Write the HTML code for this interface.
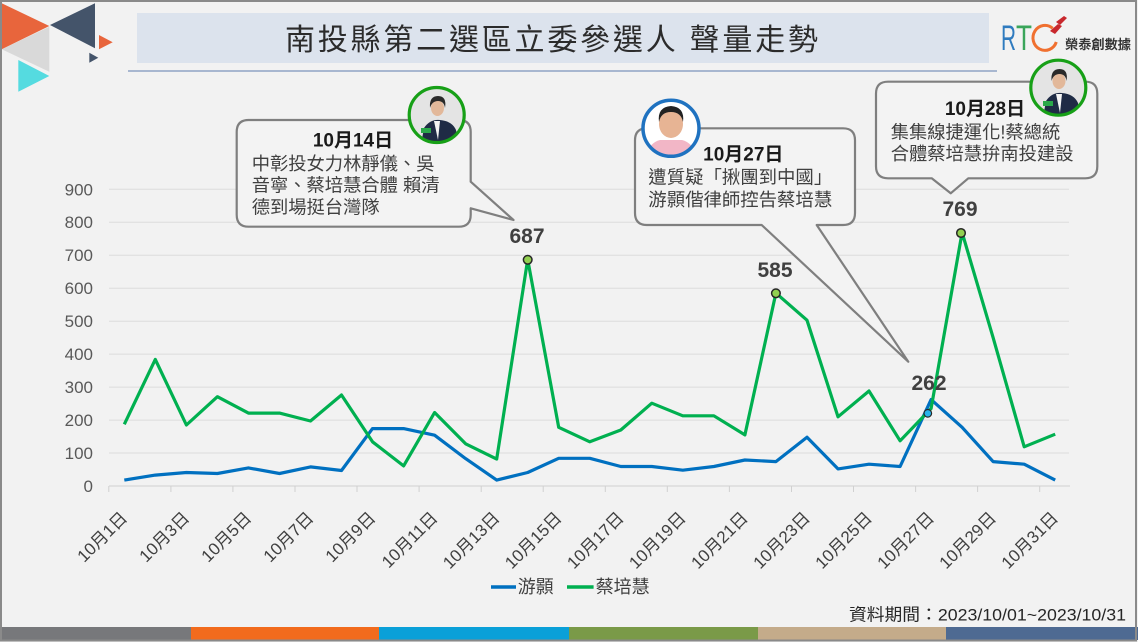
<!DOCTYPE html>
<html><head><meta charset="utf-8"><style>
html,body{margin:0;padding:0;background:#f2f2f2;}
svg{display:block;}
text{font-family:"Liberation Sans","Noto Sans CJK TC",sans-serif;}
</style></head><body>
<svg width="1138" height="642" viewBox="0 0 1138 642" xmlns="http://www.w3.org/2000/svg">
<defs>
<clipPath id="c1"><circle cx="436.7" cy="115" r="27"/></clipPath>
<clipPath id="c2"><circle cx="671" cy="128.3" r="27"/></clipPath>
<clipPath id="c3"><circle cx="1058.3" cy="87.7" r="27"/></clipPath>
</defs>
<rect x="0" y="0" width="1138" height="642" fill="#f2f2f2"/>

<!-- logo triangles -->
<polygon points="1.7,49.3 49.3,26.7 49.3,71.7" fill="#d9d9d9"/>
<polygon points="1.7,3.3 1.7,49.3 49.3,26" fill="#e8653c"/>
<polygon points="18.3,60 18.3,91.7 49.3,76" fill="#55dbe0"/>
<polygon points="50,25 95,3.3 95,48.3" fill="#44546a"/>
<polygon points="99,35 99,49.3 112.7,42.3" fill="#e8653c"/>
<polygon points="89.3,52.7 89.3,62.7 98.3,57.7" fill="#44546a"/>

<!-- title -->
<rect x="137" y="13" width="852" height="50" fill="#dce3ed"/>
<line x1="128" y1="71" x2="997" y2="71" stroke="#8fa3c4" stroke-width="1.5"/>
<text x="285" y="50" font-size="30" fill="#2b2b2b" textLength="533" lengthAdjust="spacing">南投縣第二選區立委參選人 聲量走勢</text>

<!-- RTC logo -->
<text x="1001" y="50" font-size="35" fill="#2f7bbf" textLength="15" lengthAdjust="spacingAndGlyphs">R</text>
<text x="1016" y="50" font-size="35" fill="#3aa55a" textLength="16" lengthAdjust="spacingAndGlyphs">T</text>
<path d="M1052.7,28.3 A12,12.5 0 1 0 1056.3,42" fill="none" stroke="#f07030" stroke-width="3"/>
<path d="M1050,31 L1058,24 L1062,26 L1055,34 Z" fill="#c8282d"/>
<path d="M1056,22 L1064,16 L1067,18 L1060,25 Z" fill="#c8282d"/>
<text x="1065" y="49" font-size="13" font-weight="bold" fill="#333" textLength="66" lengthAdjust="spacingAndGlyphs">榮泰創數據</text>

<!-- gridlines -->
<g stroke="#dcdcdc" stroke-width="1">
<line x1="109" y1="453" x2="1069" y2="453"/>
<line x1="109" y1="420.1" x2="1069" y2="420.1"/>
<line x1="109" y1="387.1" x2="1069" y2="387.1"/>
<line x1="109" y1="354.1" x2="1069" y2="354.1"/>
<line x1="109" y1="321.2" x2="1069" y2="321.2"/>
<line x1="109" y1="288.2" x2="1069" y2="288.2"/>
<line x1="109" y1="255.2" x2="1069" y2="255.2"/>
<line x1="109" y1="222.2" x2="1069" y2="222.2"/>
<line x1="109" y1="189.3" x2="1069" y2="189.3"/>
</g>
<line x1="109" y1="486" x2="1070" y2="486" stroke="#d0d0d0" stroke-width="1"/>
<g stroke="#d0d0d0" stroke-width="1">
<line x1="108.8" y1="486" x2="108.8" y2="492"/>
<line x1="170.9" y1="486" x2="170.9" y2="492"/>
<line x1="232.9" y1="486" x2="232.9" y2="492"/>
<line x1="295" y1="486" x2="295" y2="492"/>
<line x1="357" y1="486" x2="357" y2="492"/>
<line x1="419.1" y1="486" x2="419.1" y2="492"/>
<line x1="481.2" y1="486" x2="481.2" y2="492"/>
<line x1="543.2" y1="486" x2="543.2" y2="492"/>
<line x1="605.3" y1="486" x2="605.3" y2="492"/>
<line x1="667.3" y1="486" x2="667.3" y2="492"/>
<line x1="729.4" y1="486" x2="729.4" y2="492"/>
<line x1="791.5" y1="486" x2="791.5" y2="492"/>
<line x1="853.5" y1="486" x2="853.5" y2="492"/>
<line x1="915.6" y1="486" x2="915.6" y2="492"/>
<line x1="977.6" y1="486" x2="977.6" y2="492"/>
<line x1="1039.7" y1="486" x2="1039.7" y2="492"/>
</g>

<!-- y labels -->
<g font-size="17" fill="#595959" text-anchor="end">
<text x="93" y="492">0</text>
<text x="93" y="459">100</text>
<text x="93" y="426.1">200</text>
<text x="93" y="393.1">300</text>
<text x="93" y="360.1">400</text>
<text x="93" y="327.2">500</text>
<text x="93" y="294.2">600</text>
<text x="93" y="261.2">700</text>
<text x="93" y="228.2">800</text>
<text x="93" y="195.3">900</text>
</g>

<!-- x labels -->
<g font-size="17" fill="#404040" text-anchor="end">
<text transform="translate(128.3,519) rotate(-45)">10月1日</text>
<text transform="translate(190.4,519) rotate(-45)">10月3日</text>
<text transform="translate(252.4,519) rotate(-45)">10月5日</text>
<text transform="translate(314.5,519) rotate(-45)">10月7日</text>
<text transform="translate(376.5,519) rotate(-45)">10月9日</text>
<text transform="translate(438.6,519) rotate(-45)">10月11日</text>
<text transform="translate(500.7,519) rotate(-45)">10月13日</text>
<text transform="translate(562.7,519) rotate(-45)">10月15日</text>
<text transform="translate(624.8,519) rotate(-45)">10月17日</text>
<text transform="translate(686.8,519) rotate(-45)">10月19日</text>
<text transform="translate(748.9,519) rotate(-45)">10月21日</text>
<text transform="translate(811,519) rotate(-45)">10月23日</text>
<text transform="translate(873,519) rotate(-45)">10月25日</text>
<text transform="translate(935.1,519) rotate(-45)">10月27日</text>
<text transform="translate(997.1,519) rotate(-45)">10月29日</text>
<text transform="translate(1059.2,519) rotate(-45)">10月31日</text>
</g>

<!-- series -->
<polyline fill="none" stroke="#0070c0" stroke-width="3.2" stroke-linejoin="round" points="124.3,480.1 155.3,475.1 186.4,472.5 217.4,473.5 248.4,467.9 279.5,473.5 310.5,466.9 341.5,470.5 372.5,428.6 403.6,428.6 434.6,435.2 465.6,458.6 496.7,480.1 527.7,472.5 558.7,458.3 589.8,458.3 620.8,466.5 651.8,466.5 682.8,470.2 713.9,466.5 744.9,460 775.9,461.6 807,437.2 838,468.9 869,464.2 900.1,466.5 931.1,399.6 962.1,427.3 993.1,461.6 1024.2,464.2 1055.2,480.1"/>
<polyline fill="none" stroke="#00b050" stroke-width="3.2" stroke-linejoin="round" points="124.3,424.3 155.3,359.4 186.4,425 217.4,396.7 248.4,413.1 279.5,413.1 310.5,421 341.5,395 372.5,441.8 403.6,465.9 434.6,412.5 465.6,443.8 496.7,459 527.7,259.5 558.7,427.3 589.8,441.8 620.8,430 651.8,403.2 682.8,415.8 713.9,415.8 744.9,434.9 775.9,293.1 807,320.2 838,416.8 869,391 900.1,440.8 931.1,408.5 962.1,232.5 993.1,337.6 1024.2,446.8 1055.2,434.2"/>

<!-- markers -->
<g stroke="#262626" stroke-width="1.5" fill="#92d050">
<circle cx="527.7" cy="259.8" r="4.3"/>
<circle cx="775.9" cy="293.3" r="4.3"/>
<circle cx="961" cy="233" r="4.3"/>
</g>
<circle cx="927.8" cy="413.3" r="3.8" fill="#29b3ea" stroke="#262626" stroke-width="1.2"/>

<!-- peak labels -->
<g font-size="21" font-weight="bold" fill="#404040" text-anchor="middle">
<text x="527" y="243">687</text>
<text x="775" y="277">585</text>
<text x="960" y="216">769</text>
<text x="929" y="390">262</text>
</g>

<!-- callout 1 -->
<path d="M248.7,120 H458.7 Q470.7,120 470.7,132 V181.7 L513.5,220 L470.7,208.3 V214.7 Q470.7,226.7 458.7,226.7 H248.7 Q236.7,226.7 236.7,214.7 V132 Q236.7,120 248.7,120 Z" fill="#f3f3f3" stroke="#7f7f7f" stroke-width="2.2" stroke-linejoin="round"/>
<text x="353" y="146.7" font-size="19" font-weight="bold" fill="#1a1a1a" text-anchor="middle">10月14日</text>
<g font-size="18.3" fill="#404040">
<text x="251.7" y="170">中彰投女力林靜儀、吳</text>
<text x="251.7" y="191.7">音寧、蔡培慧合體 賴清</text>
<text x="251.7" y="213.3">德到場挺台灣隊</text>
</g>

<!-- callout 2 -->
<path d="M647,128.3 H843 Q855,128.3 855,140.3 V213 Q855,225 843,225 H816.7 L908.3,361.7 L761.7,225 H647 Q635,225 635,213 V140.3 Q635,128.3 647,128.3 Z" fill="#f3f3f3" stroke="#7f7f7f" stroke-width="2.2" stroke-linejoin="round"/>
<text x="743.3" y="160.7" font-size="19" font-weight="bold" fill="#1a1a1a" text-anchor="middle">10月27日</text>
<g font-size="18.4" fill="#404040">
<text x="648.3" y="183.3">遭質疑「揪團到中國」</text>
<text x="648.3" y="206">游顥偕律師控告蔡培慧</text>
</g>

<!-- callout 3 -->
<path d="M888,81.7 H1085.3 Q1097.3,81.7 1097.3,93.7 V166.3 Q1097.3,178.3 1085.3,178.3 H968.3 L950.7,193.3 L931.7,178.3 H888 Q876,178.3 876,166.3 V93.7 Q876,81.7 888,81.7 Z" fill="#f3f3f3" stroke="#7f7f7f" stroke-width="2.2" stroke-linejoin="round"/>
<text x="985" y="115" font-size="19" font-weight="bold" fill="#1a1a1a" text-anchor="middle">10月28日</text>
<g font-size="18.3" fill="#404040">
<text x="890.7" y="138.3">集集線捷運化!蔡總統</text>
<text x="890.7" y="160">合體蔡培慧拚南投建設</text>
</g>

<!-- avatar 1 (woman) -->
<g clip-path="url(#c1)">
<rect x="405" y="83" width="64" height="64" fill="#e4e4e4"/>
<path d="M420,150 L424,128 Q430,119 440,120 Q452,121 456,130 L460,150 Z" fill="#1f2b45"/>
<path d="M434,121 L440,121 L438,140 Z" fill="#f4f4f4"/>
<ellipse cx="437.5" cy="108" rx="6.5" ry="8" fill="#e2b89a"/>
<path d="M430,108 Q429,96 438,96 Q447,96 445,108 Q444,101 438,101 Q432,101 430,108 Z" fill="#2a2a2a"/>
<rect x="421" y="128" width="10" height="5" fill="#2aa84a"/>
</g>
<circle cx="436.7" cy="115" r="27.5" fill="none" stroke="#17a017" stroke-width="3.2"/>

<!-- avatar 2 (man) -->
<g clip-path="url(#c2)">
<rect x="640" y="97" width="64" height="64" fill="#ffffff"/>
<path d="M645,160 Q648,143 660,140 L682,140 Q694,143 698,160 Z" fill="#f2b6c6"/>
<ellipse cx="671" cy="124" rx="12" ry="14" fill="#e7b494"/>
<path d="M659,122 Q657,107 671,106 Q685,107 683,122 Q681,112 671,112 Q661,112 659,122 Z" fill="#222"/>
</g>
<circle cx="671" cy="128.3" r="28" fill="none" stroke="#1f72c0" stroke-width="3.5"/>

<!-- avatar 3 (woman) -->
<g clip-path="url(#c3)">
<rect x="1026" y="56" width="64" height="64" fill="#e4e4e4"/>
<path d="M1042,123 L1046,101 Q1052,92 1062,93 Q1074,94 1078,103 L1082,123 Z" fill="#1f2b45"/>
<path d="M1056,94 L1062,94 L1060,113 Z" fill="#f4f4f4"/>
<ellipse cx="1059" cy="81" rx="6.5" ry="8" fill="#e2b89a"/>
<path d="M1051.5,81 Q1050.5,69 1059.5,69 Q1068.5,69 1066.5,81 Q1065.5,74 1059.5,74 Q1053.5,74 1051.5,81 Z" fill="#2a2a2a"/>
<rect x="1043" y="101" width="10" height="5" fill="#2aa84a"/>
</g>
<circle cx="1058.3" cy="87.7" r="27.5" fill="none" stroke="#17a017" stroke-width="3.2"/>

<!-- legend -->
<line x1="491" y1="587" x2="516" y2="587" stroke="#0070c0" stroke-width="3.5"/>
<text x="517.7" y="593" font-size="18" fill="#404040">游顥</text>
<line x1="567" y1="587" x2="593.6" y2="587" stroke="#00b050" stroke-width="3.5"/>
<text x="595.7" y="593" font-size="18" fill="#404040">蔡培慧</text>

<!-- source -->
<text x="849" y="620.7" font-size="17" fill="#262626" textLength="277" lengthAdjust="spacingAndGlyphs">資料期間：2023/10/01~2023/10/31</text>

<!-- bottom bar -->
<rect x="0" y="627" width="191" height="13" fill="#77787b"/>
<rect x="191" y="627" width="188" height="13" fill="#f26b1d"/>
<rect x="379" y="627" width="190" height="13" fill="#0aa0d8"/>
<rect x="569" y="627" width="189" height="13" fill="#7a9a48"/>
<rect x="758" y="627" width="188" height="13" fill="#c4ab8a"/>
<rect x="946" y="627" width="192" height="13" fill="#4e6a92"/>

<!-- outer border -->
<rect x="1" y="1" width="1135" height="639.5" fill="none" stroke="#8a8a8a" stroke-width="2"/>
</svg>
</body></html>
